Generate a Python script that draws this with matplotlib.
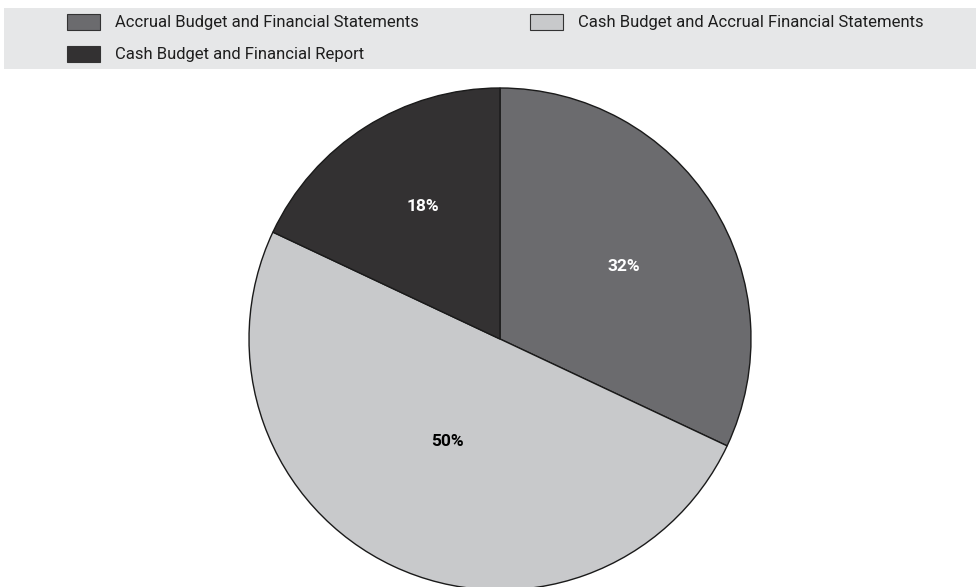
import matplotlib.pyplot as plt
import matplotlib.patches as mpatches
import numpy as np

# slice data, clockwise from 12 o'clock
categories = ["Accrual Budget and Financial Statements",
              "Cash Budget and Accrual Financial Statements",
              "Cash Budget and Financial Report"]
shares = [32, 50, 18]
colors = ["#6b6b6e", "#c8c9cb", "#333132"]
label_colors = ["white", "black", "white"]
label_radius = [0.57, 0.46, 0.61]

W, H = 976, 587
fig = plt.figure(figsize=(W / 100, H / 100), dpi=100)
ax = fig.add_axes([0, 0, 1, 1])

font = ["Roboto", "DejaVu Sans"]

# pie, centre and radius in pixel units (y measured from the bottom)
cx, cy, r = 500, H - 339, 251
wedges, _ = ax.pie(shares, colors=colors, startangle=90, counterclock=False,
                   center=(cx, cy), radius=r, frame=True,
                   wedgeprops=dict(edgecolor="#1a1a1a", linewidth=1.0))
ax.set_xlim(0, W)
ax.set_ylim(0, H)
ax.set_aspect("equal")
ax.axis("off")

# percentage labels
for w, val, c, rr in zip(wedges, shares, label_colors, label_radius):
    ang = np.deg2rad((w.theta1 + w.theta2) / 2 - 2)
    x = cx + rr * r * np.cos(ang)
    y = cy + rr * r * np.sin(ang)
    ax.text(x, y, f"{val}%", ha="center", va="center", color=c,
            fontsize=12.5, fontweight="bold", family=font)

# legend band
ax.add_patch(mpatches.Rectangle((4, H - 69), W - 4, 61, facecolor="#e6e7e8",
                                edgecolor="none", zorder=0))
legend_pos = [(67, H - 22), (530, H - 22), (67, H - 54)]
for (lx, ly), name, c in zip(legend_pos, categories, colors):
    ax.add_patch(mpatches.Rectangle((lx, ly - 8), 33, 16, facecolor=c,
                                    edgecolor="#333333", linewidth=0.8))
    ax.text(lx + 48, ly, name, ha="left", va="center", fontsize=12,
            color="#1e1e1e", family=font)

fig.savefig("out.png", dpi=100)
